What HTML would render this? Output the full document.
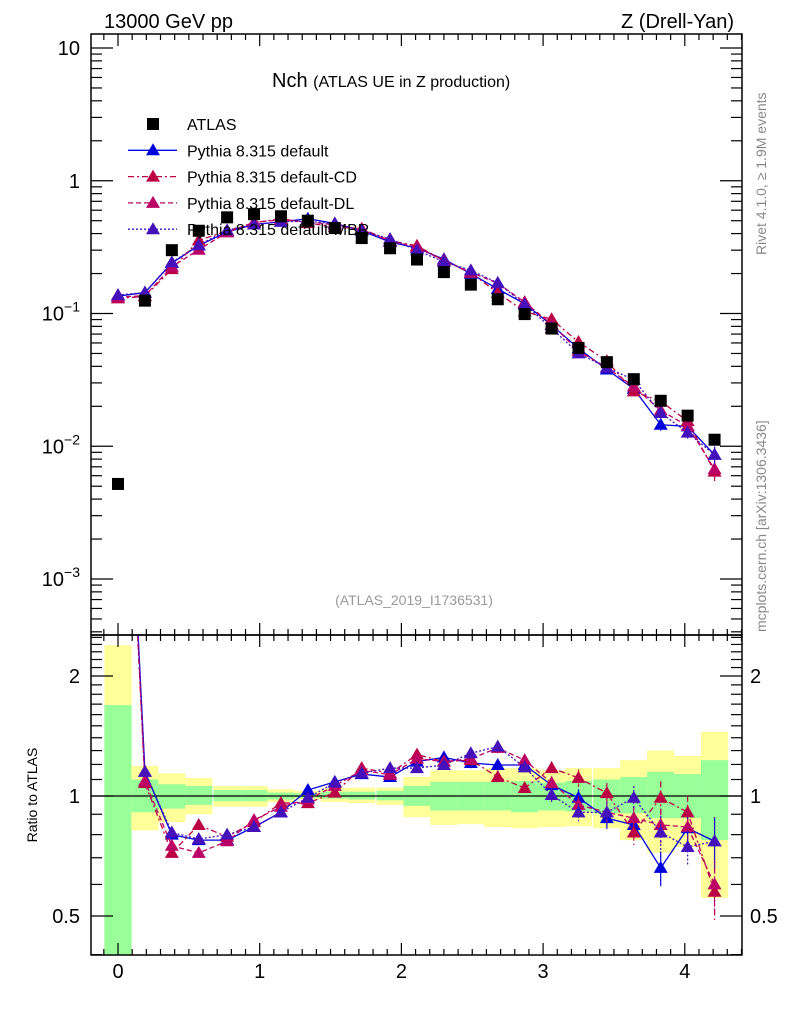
<!DOCTYPE html>
<html><head><meta charset="utf-8">
<style>
body{margin:0;background:#fff;}
svg{display:block;font-family:"Liberation Sans",Arial,sans-serif;}
</style></head>
<body>
<svg id="chart" width="786" height="1024" viewBox="0 0 786 1024" xmlns="http://www.w3.org/2000/svg">
<defs>
<clipPath id="clipMain"><rect x="91" y="34" width="651" height="601"/></clipPath>
<clipPath id="clipRatio"><rect x="91" y="635" width="651" height="320"/></clipPath>
</defs>
<text x="104" y="28" font-size="20">13000 GeV pp</text>
<text x="734" y="28" font-size="20" text-anchor="end">Z (Drell-Yan)</text>
<text x="272" y="87" font-size="20">Nch <tspan font-size="16">(ATLAS UE in Z production)</tspan></text>
<text x="414" y="605" font-size="14" fill="#999" text-anchor="middle">(ATLAS_2019_I1736531)</text>
<text transform="translate(37,795) rotate(-90)" font-size="14" text-anchor="middle">Ratio to ATLAS</text>
<text transform="translate(766,255) rotate(-90)" font-size="14" fill="#888">Rivet 4.1.0, ≥ 1.9M events</text>
<text transform="translate(766,632) rotate(-90)" font-size="14" fill="#888">mcplots.cern.ch [arXiv:1306.3436]</text>
<g id="bands" clip-path="url(#clipRatio)"></g>
<g id="ratioMarks" clip-path="url(#clipRatio)"></g>
<g id="mainMarks" clip-path="url(#clipMain)"></g>
<g id="axes"></g>
<g id="legend"></g>
</svg>
<script>
const xs = [0,0.19,0.38,0.57,0.77,0.96,1.15,1.34,1.53,1.72,1.92,2.11,2.30,2.49,2.68,2.87,3.06,3.25,3.45,3.64,3.83,4.02,4.21];
const atlas = [0.0052,0.125,0.30,0.42,0.53,0.56,0.54,0.50,0.44,0.37,0.31,0.255,0.205,0.165,0.128,0.099,0.077,0.055,0.043,0.032,0.022,0.017,0.0112];
const ratioDefault = [26,1.15,0.80,0.775,0.775,0.836,0.91,1.035,1.085,1.135,1.116,1.22,1.25,1.21,1.196,1.196,1.065,0.99,0.88,0.846,0.66,0.83,0.77];
const ratioCD = [25,1.078,0.72,0.846,0.79,0.86,0.96,0.96,1.02,1.175,1.14,1.27,1.22,1.23,1.116,1.047,1.175,1.11,1.017,0.81,0.99,0.91,0.575];
const ratioDL = [25.5,1.09,0.75,0.72,0.77,0.87,0.94,0.98,1.06,1.16,1.13,1.24,1.22,1.24,1.32,1.23,1.078,0.95,0.91,0.88,0.846,0.836,0.6];
const ratioMBR = [26.5,1.15,0.81,0.78,0.80,0.836,0.91,0.99,1.08,1.14,1.175,1.175,1.196,1.28,1.33,1.18,1.006,0.91,0.91,0.99,0.81,0.745,0.77];
const relErr = [0.02,0.03,0.02,0.02,0.02,0.02,0.015,0.015,0.015,0.02,0.02,0.025,0.025,0.03,0.03,0.035,0.04,0.05,0.06,0.07,0.1,0.1,0.15];
const yellowUp = [2.39,1.19,1.14,1.11,1.06,1.06,1.04,1.03,1.047,1.05,1.05,1.116,1.16,1.16,1.175,1.175,1.16,1.175,1.175,1.23,1.30,1.26,1.45];
const yellowDn = [0.3,0.82,0.86,0.90,0.94,0.94,0.965,0.98,0.966,0.96,0.95,0.885,0.846,0.85,0.836,0.83,0.836,0.84,0.83,0.775,0.72,0.745,0.555];
const greenUp = [1.69,1.10,1.07,1.06,1.035,1.035,1.02,1.015,1.025,1.025,1.03,1.06,1.085,1.085,1.085,1.09,1.08,1.09,1.10,1.115,1.15,1.135,1.23];
const greenDn = [0.3,0.91,0.93,0.95,0.97,0.97,0.98,0.99,0.985,0.98,0.975,0.945,0.92,0.92,0.92,0.91,0.92,0.915,0.905,0.905,0.88,0.88,0.775];
const xTicks = [0,1,2,3,4];
const mainTicks = [1,0,-1,-2,-3];
const ratioTicks = [0.5,1,2];

const NS = "http://www.w3.org/2000/svg";
const X0=91,X1=742,MT=34,MB=635,RB=955;
function sx(v){return 118+v*141.7;}
function sy(v){return 180.75-Math.log10(v)*132.75;}
function ry(v){return 796-Math.log2(v)*120;}
function mk(parent,tag,attrs){const e=document.createElementNS(NS,tag);for(const k in attrs)e.setAttribute(k,attrs[k]);parent.appendChild(e);return e;}
const bands=document.getElementById('bands'),rm=document.getElementById('ratioMarks'),mm=document.getElementById('mainMarks'),ax=document.getElementById('axes'),lg=document.getElementById('legend');

xs.forEach((x,i)=>{
  const a=sx(x-0.096),b=sx(x+0.096);
  let r=mk(bands,'rect',{x:a,y:ry(yellowUp[i]),width:b-a,height:ry(yellowDn[i])-ry(yellowUp[i]),fill:'#ffff99'});
  
  
  r=mk(bands,'rect',{x:a,y:ry(greenUp[i]),width:b-a,height:ry(greenDn[i])-ry(greenUp[i]),fill:'#99ff99'});
  
  
});
let one=mk(rm,'line',{x1:X0,x2:X1,y1:ry(1),y2:ry(1),stroke:'#000','stroke-width':1.3});



const series=[
 {name:'default',r:ratioDefault,c:'#0000dd',dash:''},
 {name:'default-cd',r:ratioCD,c:'#bb0044',dash:'6,3,2,3'},
 {name:'default-dl',r:ratioDL,c:'#bb0066',dash:'5,3'},
 {name:'default-mbr',r:ratioMBR,c:'#4411bb',dash:'2,2'}
];
function tri(g,x,y,c){return mk(g,'path',{d:`M${x},${y-7}L${x+7},${y+5}L${x-7},${y+5}Z`,fill:c});}
series.forEach(s=>{
  const gR=mk(rm,'g',{});
  
  
  mk(gR,'polyline',{points:xs.map((x,i)=>sx(x)+','+ry(s.r[i])).join(' '),fill:'none',stroke:s.c,'stroke-width':1.3,'stroke-dasharray':s.dash});
  xs.forEach((x,i)=>{
    const v=s.r[i],e=relErr[i]*v;
    mk(gR,'line',{x1:sx(x),x2:sx(x),y1:ry(v+e),y2:ry(Math.max(v-e,0.01)),stroke:s.c,'stroke-width':1.2,'stroke-dasharray':s.dash});
    const t=tri(gR,sx(x),ry(v),s.c);
    
    
  });
  const gM=mk(mm,'g',{});
  
  
  mk(gM,'polyline',{points:xs.map((x,i)=>sx(x)+','+sy(s.r[i]*atlas[i])).join(' '),fill:'none',stroke:s.c,'stroke-width':1.3,'stroke-dasharray':s.dash});
  xs.forEach((x,i)=>{
    const v=s.r[i]*atlas[i],e=relErr[i]*v;
    mk(gM,'line',{x1:sx(x),x2:sx(x),y1:sy(v+e),y2:sy(v-e),stroke:s.c,'stroke-width':1.2});
    const t=tri(gM,sx(x),sy(v),s.c);
    
    
  });
});
xs.forEach((x,i)=>{
  const p=mk(mm,'rect',{x:sx(x)-6,y:sy(atlas[i])-6,width:12,height:12,fill:'#000'});
  
  
});

let f=mk(ax,'rect',{x:X0,y:MT,width:X1-X0,height:MB-MT,fill:'none',stroke:'#000','stroke-width':1.5});


f=mk(ax,'rect',{x:X0,y:MB,width:X1-X0,height:RB-MB,fill:'none',stroke:'#000','stroke-width':1.5});


for(let k=-2;k<=44;k++){
  const v=k/10,x=sx(v);if(x<X0||x>X1)continue;
  const major=k%10===0,len=major?12:6;
  [MT,MB].forEach(yt=>mk(ax,'line',{x1:x,x2:x,y1:yt,y2:yt+len,stroke:'#000','stroke-width':1.2}));
  [MB,RB].forEach(yb=>mk(ax,'line',{x1:x,x2:x,y1:yb,y2:yb-len,stroke:'#000','stroke-width':1.2}));
}
xTicks.forEach(v=>{
  const t=mk(ax,'text',{x:sx(v),y:978,'font-size':20,'text-anchor':'middle'});t.textContent=v;
  
  
});
for(let d=-4;d<=1;d++){
  for(let m=1;m<10;m++){
    const v=m*Math.pow(10,d),y=sy(v);if(y<MT||y>MB)continue;
    const len=m===1?22:11;
    mk(ax,'line',{x1:X0,x2:X0+len,y1:y,y2:y,stroke:'#000','stroke-width':1.2});
    mk(ax,'line',{x1:X1,x2:X1-len,y1:y,y2:y,stroke:'#000','stroke-width':1.2});
  }
}
mainTicks.forEach(d=>{
  const t=mk(ax,'text',{x:80,y:sy(Math.pow(10,d))+7,'font-size':20,'text-anchor':'end'});
  if(d===1)t.textContent='10';else if(d===0)t.textContent='1';
  else{t.textContent='10';const s=mk(t,'tspan',{dy:-9,'font-size':14});s.textContent='−'+(-d);}
  
  
});
for(let v=0.4;v<=2.6;v+=0.1){
  const y=ry(v);if(y<MB||y>RB)continue;
  const maj=ratioTicks.some(r=>Math.abs(r-v)<1e-6),len=maj?22:11;
  mk(ax,'line',{x1:X0,x2:X0+len,y1:y,y2:y,stroke:'#000','stroke-width':1.2});
  mk(ax,'line',{x1:X1,x2:X1-len,y1:y,y2:y,stroke:'#000','stroke-width':1.2});
}
ratioTicks.forEach(v=>{
  [[80,'end'],[750,'start']].forEach(([x,a])=>{
    const t=mk(ax,'text',{x:x,y:ry(v)+7,'font-size':20,'text-anchor':a});t.textContent=v;
    
    
  });
});
const legendItems=[['ATLAS',null],['Pythia 8.315 default',series[0]],['Pythia 8.315 default-CD',series[1]],['Pythia 8.315 default-DL',series[2]],['Pythia 8.315 default-MBR',series[3]]];
legendItems.forEach((it,i)=>{
  const y=124+i*26.3;
  const g=mk(lg,'g',{});
  
  
  if(!it[1])mk(g,'rect',{x:147,y:y-6,width:12,height:12,fill:'#000'});
  else{mk(g,'line',{x1:128,x2:177,y1:y,y2:y,stroke:it[1].c,'stroke-width':1.3,'stroke-dasharray':it[1].dash});tri(g,153,y,it[1].c);}
  const t=mk(g,'text',{x:187,y:y+6,'font-size':16});t.textContent=it[0];
});
</script>
</body></html>
